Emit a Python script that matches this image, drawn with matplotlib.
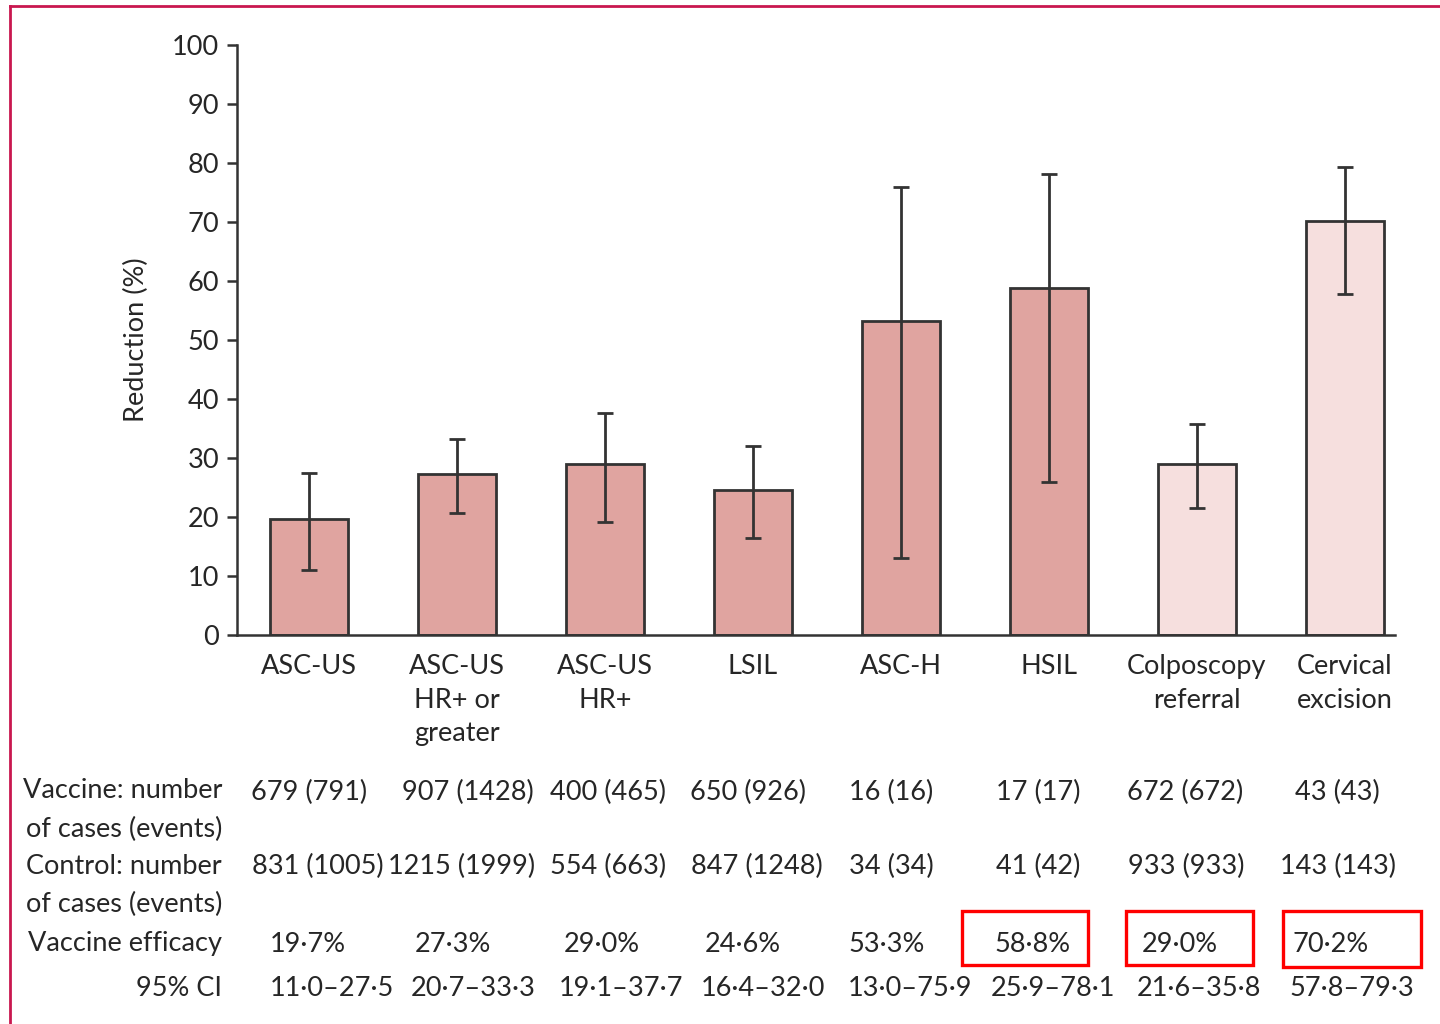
import matplotlib
matplotlib.use("Agg")
import matplotlib.pyplot as plt
from matplotlib.patches import Rectangle
from matplotlib.lines import Line2D

# ---- data ----
categories = ["ASC-US", "ASC-US\nHR+ or\ngreater", "ASC-US\nHR+", "LSIL",
              "ASC-H", "HSIL", "Colposcopy\nreferral", "Cervical\nexcision"]
efficacy = [19.7, 27.3, 29.0, 24.6, 53.3, 58.8, 29.0, 70.2]
ci_low = [11.0, 20.7, 19.1, 16.4, 13.0, 25.9, 21.6, 57.8]
ci_high = [27.5, 33.3, 37.7, 32.0, 75.9, 78.1, 35.8, 79.3]
vaccine_cases = ["679 (791)", "907 (1428)", "400 (465)", "650 (926)",
                 "16 (16)", "17 (17)", "672 (672)", "43 (43)"]
control_cases = ["831 (1005)", "1215 (1999)", "554 (663)", "847 (1248)",
                 "34 (34)", "41 (42)", "933 (933)", "143 (143)"]
efficacy_text = ["19·7%", "27·3%", "29·0%", "24·6%", "53·3%", "58·8%", "29·0%", "70·2%"]
ci_text = ["11·0–27·5", "20·7–33·3", "19·1–37·7", "16·4–32·0",
           "13·0–75·9", "25·9–78·1", "21·6–35·8", "57·8–79·3"]
highlighted = [5, 6, 7]
y_ticks = list(range(0, 101, 10))

# ---- style ----
W, H = 1440, 1024
TXT = "#262626"
BAR = "#e0a4a0"
BAR_LIGHT = "#f6dfde"
EDGE = "#333333"
plt.rcParams["font.family"] = ["Lato", "DejaVu Sans"]
FS = 19.5


def fx(px):
    return px / W


def fy(py):
    return 1 - py / H


fig = plt.figure(figsize=(W / 100, H / 100), dpi=100)
ax = fig.add_axes([fx(237), fy(635), fx(1395) - fx(237), fy(45) - fy(635)])

x = list(range(len(categories)))
colors = [BAR] * 6 + [BAR_LIGHT] * 2
ax.bar(x, efficacy, width=0.53, color=colors, edgecolor=EDGE, linewidth=2, zorder=2)
yerr = [[e - lo for e, lo in zip(efficacy, ci_low)],
        [hi - e for e, hi in zip(efficacy, ci_high)]]
ax.errorbar(x, efficacy, yerr=yerr, fmt="none", ecolor=EDGE, elinewidth=2,
            capsize=6, capthick=2, zorder=3)

ax.set_xlim(-0.486, 7.338)
ax.set_ylim(0, 100)
ax.set_yticks(y_ticks)
ax.tick_params(axis="y", direction="out", length=7, width=1.8, color=EDGE,
               labelsize=FS, labelcolor=TXT, pad=6)
ax.set_xticks(x)
ax.set_xticklabels(categories, fontsize=FS, color=TXT, linespacing=1.42, va="top")
ax.tick_params(axis="x", length=0, pad=14)
for s in ["top", "right"]:
    ax.spines[s].set_visible(False)
for s in ["left", "bottom"]:
    ax.spines[s].set_linewidth(1.8)
    ax.spines[s].set_color(EDGE)

fig.text(fx(136), fy(340), "Reduction (%)", rotation=90, ha="center", va="center",
         fontsize=19.5, color=TXT)

# ---- table beneath the chart ----
row_labels = [("Vaccine: number", 790), ("of cases (events)", 829),
              ("Control: number", 866), ("of cases (events)", 904),
              ("Vaccine efficacy", 943), ("95% CI", 989)]
for txt, py in row_labels:
    fig.text(fx(222), fy(py), txt, ha="right", va="center", fontsize=FS, color=TXT)

vacc_x = [309, 468, 608, 748, 891, 1038, 1185, 1337]
ctrl_x = [318, 462, 608, 757, 891, 1038, 1186, 1338]
eff_x = [308, 453, 602, 743, 887, 1033, 1180, 1331]
ci_x = [332, 473, 621, 763, 910, 1053, 1199, 1352]
rows = [(vaccine_cases, vacc_x, 792), (control_cases, ctrl_x, 866),
        (efficacy_text, eff_x, 945), (ci_text, ci_x, 989)]
for texts, xs, py in rows:
    for t, px in zip(texts, xs):
        fig.text(fx(px), fy(py), t, ha="center", va="center", fontsize=FS, color=TXT)

# red boxes around highlighted efficacy values
box_px = {5: (962, 911, 1088, 965), 6: (1126, 911, 1253, 965), 7: (1283, 911, 1421, 967)}
for i in highlighted:
    x0, y0, x1, y1 = box_px[i]
    fig.patches.append(Rectangle((fx(x0), fy(y1)), fx(x1) - fx(x0), fy(y0) - fy(y1),
                                 transform=fig.transFigure, fill=False,
                                 edgecolor="#ff0000", linewidth=2.4))

# page frame
fig.add_artist(Line2D([fx(10), 1], [fy(6), fy(6)], color="#c9174f", linewidth=2,
                      transform=fig.transFigure))
fig.add_artist(Line2D([fx(10), fx(10)], [fy(6), 0], color="#c9174f", linewidth=2,
                      transform=fig.transFigure))

fig.savefig("out.png", dpi=100, facecolor="white")
